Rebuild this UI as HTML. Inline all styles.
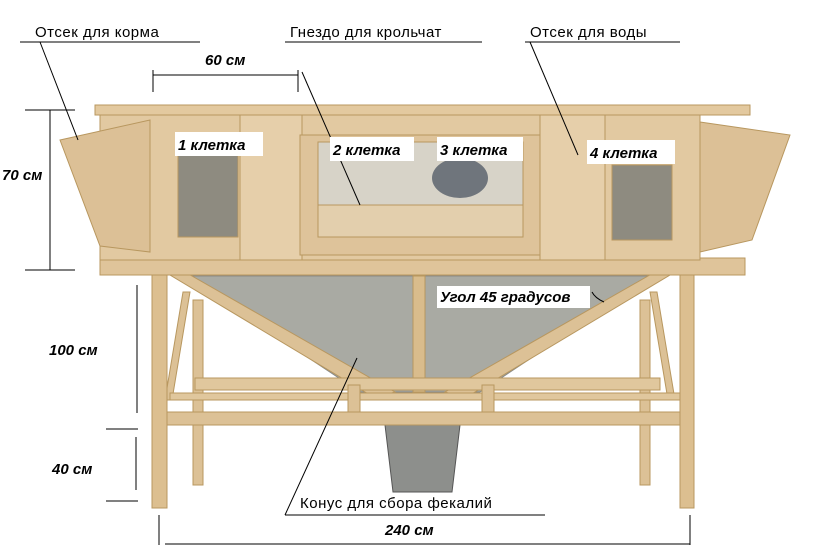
<!DOCTYPE html><html><head><meta charset="utf-8"><style>
body{margin:0;background:#fff;width:840px;height:553px;overflow:hidden}
svg{display:block}
text{font-family:"Liberation Sans",sans-serif}
.b{font-weight:bold;font-style:italic;font-size:15px}
.l{font-size:15px;letter-spacing:0.5px}
</style></head><body>
<svg width="840" height="553" viewBox="0 0 840 553">
<g stroke="#b8975f" stroke-width="1">
<rect x="193" y="300" width="10" height="185" fill="#dcc196"/>
<rect x="640" y="300" width="10" height="185" fill="#dcc196"/>
<polygon points="185,276 655,276 480,392 360,392" fill="#a9aaa3" stroke="#8a8a85"/>
<rect x="413" y="276" width="12" height="116" fill="#d9bc8c"/>
<polygon points="385,425 460,425 452,492 393,492" fill="#8d8f8c" stroke="#555"/>
<polygon points="165,272 185,272 395,392 375,398" fill="#dcc196"/>
<polygon points="675,272 655,272 445,392 465,398" fill="#dcc196"/>
<polygon points="183,292 190,292 172,400 165,400" fill="#dcc196"/>
<polygon points="657,292 650,292 668,400 675,400" fill="#dcc196"/>
<rect x="195" y="378" width="465" height="12" fill="#e0c79d"/>
<rect x="170" y="393" width="510" height="7" fill="#e0c79d"/>
<rect x="167" y="412" width="515" height="13" fill="#dcc196"/>
<rect x="348" y="385" width="12" height="27" fill="#dcc196"/>
<rect x="482" y="385" width="12" height="27" fill="#dcc196"/>
<rect x="152" y="258" width="15" height="250" fill="#dcbf90"/>
<rect x="680" y="258" width="14" height="250" fill="#dcbf90"/>
<rect x="100" y="258" width="645" height="17" fill="#dfc49a"/>
<rect x="100" y="115" width="600" height="145" fill="#e2c9a1"/>
<polygon points="60,140 150,120 150,252 100,246" fill="#dcc096"/>
<polygon points="700,122 790,135 752,240 700,252" fill="#dcc096"/>
<rect x="240" y="110" width="62" height="150" fill="#e6cfaa"/>
<rect x="540" y="110" width="65" height="150" fill="#e6cfaa"/>
<rect x="300" y="135" width="240" height="120" fill="#dec39a"/>
<rect x="318" y="142" width="205" height="95" fill="#d7d3c8"/>
<rect x="178" y="155" width="60" height="82" fill="#8e8b80"/>
<rect x="612" y="165" width="60" height="75" fill="#8e8b80"/>
<ellipse cx="460" cy="178" rx="28" ry="20" fill="#6f757c" stroke="none"/>
<rect x="318" y="205" width="205" height="32" fill="#e3cfad"/>
<rect x="95" y="105" width="655" height="10" fill="#e3c99f"/>
</g>
<g stroke="#000" stroke-width="1" fill="none">
<line x1="20" y1="42" x2="200" y2="42"/><line x1="40" y1="42" x2="78" y2="140"/>
<line x1="285" y1="42" x2="482" y2="42"/><line x1="302" y1="72" x2="360" y2="205"/>
<line x1="525" y1="42" x2="680" y2="42"/><line x1="530" y1="42" x2="578" y2="155"/>
<line x1="153" y1="75" x2="298" y2="75"/><line x1="153" y1="70" x2="153" y2="92"/><line x1="298" y1="70" x2="298" y2="92"/>
<line x1="50" y1="110" x2="50" y2="270"/><line x1="25" y1="110" x2="75" y2="110"/><line x1="25" y1="270" x2="75" y2="270"/>
<line x1="137" y1="285" x2="137" y2="413"/><line x1="136" y1="437" x2="136" y2="490"/>
<line x1="106" y1="429" x2="138" y2="429"/><line x1="106" y1="501" x2="138" y2="501"/>
<line x1="165" y1="544" x2="690" y2="544"/><line x1="159" y1="515" x2="159" y2="545"/><line x1="690" y1="515" x2="690" y2="545"/>
<line x1="285" y1="515" x2="545" y2="515"/><line x1="285" y1="515" x2="357" y2="358"/>
<path d="M592,292 q3,6 12,10"/>
</g>
<g fill="#fff">
<rect x="175" y="132" width="88" height="24"/><rect x="330" y="137" width="84" height="24"/>
<rect x="437" y="137" width="86" height="24"/><rect x="587" y="140" width="88" height="24"/>
<rect x="437" y="286" width="153" height="22"/>
</g>
<text class="l" x="35" y="37">Отсек для корма</text>
<text class="l" x="290" y="37">Гнездо для крольчат</text>
<text class="l" x="530" y="37">Отсек для воды</text>
<text class="b" x="205" y="65">60 см</text>
<text class="b" x="2" y="180">70 см</text>
<text class="b" x="49" y="355">100 см</text>
<text class="b" x="52" y="474">40 см</text>
<text class="b" x="178" y="150">1 клетка</text>
<text class="b" x="333" y="155">2 клетка</text>
<text class="b" x="440" y="155">3 клетка</text>
<text class="b" x="590" y="158">4 клетка</text>
<text class="b" x="440" y="302">Угол 45 градусов</text>
<text class="l" x="300" y="508">Конус для сбора фекалий</text>
<text class="b" x="385" y="535">240 см</text>
</svg>
</body></html>
